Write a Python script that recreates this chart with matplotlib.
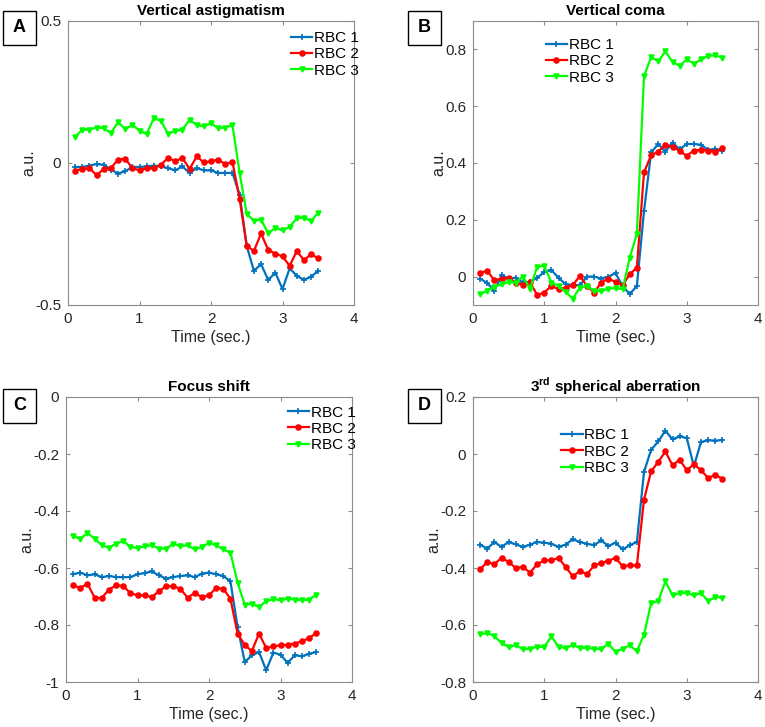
import numpy as np
import matplotlib
matplotlib.use("Agg")
import matplotlib.pyplot as plt
from matplotlib.patches import Rectangle
from matplotlib.ticker import FuncFormatter

plt.rcParams['font.family'] = ['Liberation Sans', 'DejaVu Sans']
plt.rcParams['mathtext.fontset'] = 'custom'
plt.rcParams['mathtext.rm'] = 'Liberation Sans'
plt.rcParams['mathtext.bf'] = 'Liberation Sans:bold'

# time points (s)
t = np.round(np.arange(1, 36) * 0.1, 1)
labels = ['RBC 1', 'RBC 2', 'RBC 3']

# A - vertical astigmatism
astig_1 = [-0.014, -0.014, -0.009, -0.004, -0.006, -0.023, -0.037, -0.029, -0.014, -0.014,
           -0.012, -0.009, -0.012, -0.018, -0.026, -0.012, -0.035, -0.018, -0.026, -0.026,
           -0.035, -0.035, -0.035, -0.111, -0.292, -0.380, -0.356, -0.412, -0.386, -0.444,
           -0.371, -0.397, -0.412, -0.400, -0.380]
astig_2 = [-0.027, -0.021, -0.018, -0.043, -0.021, -0.018, 0.012, 0.015, -0.018, -0.026,
           -0.018, -0.018, -0.006, 0.018, 0.006, 0.018, -0.021, 0.023, 0.002, 0.006,
           0.012, -0.004, 0.004, -0.126, -0.292, -0.310, -0.248, -0.306, -0.319, -0.329,
           -0.362, -0.310, -0.342, -0.321, -0.336]
astig_3 = [0.093, 0.117, 0.117, 0.125, 0.123, 0.105, 0.144, 0.119, 0.134, 0.114,
           0.102, 0.158, 0.148, 0.103, 0.113, 0.117, 0.152, 0.134, 0.129, 0.140,
           0.123, 0.125, 0.134, -0.035, -0.178, -0.204, -0.199, -0.248, -0.228, -0.237,
           -0.225, -0.195, -0.193, -0.204, -0.175]

# B - vertical coma
coma_1 = [-0.007, -0.023, -0.050, 0.005, -0.007, -0.004, -0.021, -0.019, -0.004, 0.016,
          0.023, -0.004, -0.027, -0.030, -0.030, 0.000, 0.000, -0.007, 0.000, 0.012,
          -0.033, -0.062, -0.033, 0.230, 0.437, 0.467, 0.440, 0.472, 0.448, 0.467,
          0.467, 0.464, 0.446, 0.450, 0.444]
coma_2 = [0.014, 0.020, -0.013, -0.007, -0.004, -0.021, -0.029, -0.019, -0.065, -0.056,
          -0.033, -0.044, -0.039, -0.030, 0.002, -0.033, -0.056, -0.021, -0.007, -0.019,
          -0.030, 0.008, 0.032, 0.367, 0.427, 0.440, 0.464, 0.458, 0.443, 0.425,
          0.444, 0.446, 0.444, 0.440, 0.452]
coma_3 = [-0.062, -0.050, -0.035, -0.027, -0.019, -0.021, 0.000, -0.042, 0.035, 0.038,
          -0.021, -0.033, -0.054, -0.078, -0.039, -0.033, -0.050, -0.052, -0.042, -0.041,
          -0.044, 0.067, 0.151, 0.705, 0.773, 0.758, 0.793, 0.756, 0.742, 0.765,
          0.750, 0.765, 0.777, 0.779, 0.771]

# C - focus shift
focus_1 = [-0.622, -0.616, -0.626, -0.622, -0.632, -0.628, -0.632, -0.632, -0.632, -0.622,
           -0.618, -0.612, -0.626, -0.637, -0.632, -0.628, -0.626, -0.632, -0.620, -0.616,
           -0.622, -0.628, -0.647, -0.807, -0.930, -0.906, -0.895, -0.959, -0.897, -0.904,
           -0.933, -0.906, -0.910, -0.901, -0.895]
focus_2 = [-0.661, -0.670, -0.655, -0.704, -0.705, -0.676, -0.661, -0.663, -0.688, -0.696,
           -0.696, -0.702, -0.682, -0.663, -0.664, -0.673, -0.704, -0.688, -0.702, -0.696,
           -0.670, -0.673, -0.708, -0.830, -0.871, -0.891, -0.830, -0.881, -0.875, -0.871,
           -0.869, -0.865, -0.857, -0.846, -0.828]
focus_3 = [-0.489, -0.497, -0.477, -0.497, -0.520, -0.529, -0.515, -0.505, -0.526, -0.530,
           -0.524, -0.520, -0.532, -0.532, -0.515, -0.524, -0.520, -0.535, -0.526, -0.512,
           -0.520, -0.535, -0.546, -0.651, -0.729, -0.725, -0.737, -0.716, -0.710, -0.713,
           -0.708, -0.711, -0.713, -0.711, -0.694]

# D - 3rd spherical aberration
sph_1 = [-0.318, -0.332, -0.309, -0.326, -0.309, -0.317, -0.326, -0.318, -0.309, -0.311,
         -0.315, -0.326, -0.318, -0.299, -0.309, -0.315, -0.320, -0.303, -0.323, -0.311,
         -0.335, -0.320, -0.309, -0.063, 0.015, 0.044, 0.082, 0.051, 0.062, 0.056,
         -0.043, 0.042, 0.048, 0.047, 0.049]
sph_2 = [-0.405, -0.379, -0.387, -0.364, -0.379, -0.400, -0.396, -0.416, -0.387, -0.373,
         -0.373, -0.365, -0.396, -0.429, -0.411, -0.422, -0.391, -0.382, -0.375, -0.364,
         -0.394, -0.391, -0.391, -0.160, -0.061, -0.028, 0.009, -0.040, -0.020, -0.057,
         -0.036, -0.057, -0.084, -0.073, -0.087]
sph_3 = [-0.633, -0.628, -0.639, -0.663, -0.677, -0.671, -0.685, -0.683, -0.677, -0.677,
         -0.640, -0.677, -0.681, -0.670, -0.680, -0.681, -0.683, -0.685, -0.665, -0.695,
         -0.683, -0.671, -0.692, -0.634, -0.523, -0.516, -0.447, -0.496, -0.488, -0.488,
         -0.496, -0.488, -0.516, -0.502, -0.504]

colors = ['#0072BD', '#FF0000', '#00FF00']
markers = ['+', 'o', 'v']
msizes = [4, 3.5, 3.5]

W, H = 765, 727
fig = plt.figure(figsize=(W / 100, H / 100), dpi=100)

def px_axes(x0, y0, x1, y1):
    return fig.add_axes([x0 / W, 1 - y1 / H, (x1 - x0) / W, (y1 - y0) / H])

panels = [
    dict(rect=(68, 21, 354, 305), title='Vertical astigmatism', data=[astig_1, astig_2, astig_3],
         ylim=(-0.5, 0.5), yticks=[-0.5, 0, 0.5], leg=(0.78, 0.965), tag='A', tagxy=(3, 11)),
    dict(rect=(473, 21, 758, 305), title='Vertical coma', data=[coma_1, coma_2, coma_3],
         ylim=(-0.1, 0.9), yticks=[0, 0.2, 0.4, 0.6, 0.8], leg=(0.255, 0.94), tag='B', tagxy=(408, 11)),
    dict(rect=(66, 397, 352, 682), title='Focus shift', data=[focus_1, focus_2, focus_3],
         ylim=(-1, 0), yticks=[-1, -0.8, -0.6, -0.4, -0.2, 0], leg=(0.775, 0.97), tag='C', tagxy=(3, 389)),
    dict(rect=(473, 397, 758, 682), title=r'3$^{\mathbf{rd}}$ spherical aberration',
         data=[sph_1, sph_2, sph_3], ylim=(-0.8, 0.2), yticks=[-0.8, -0.6, -0.4, -0.2, 0, 0.2],
         leg=(0.31, 0.89), tag='D', tagxy=(408, 389)),
]

for p in panels:
    ax = px_axes(*p['rect'])
    for y, c, m, ms, lab in zip(p['data'], colors, markers, msizes, labels):
        ax.plot(t, y, color=c, marker=m, markersize=ms, markeredgewidth=1.2,
                linewidth=1.6, label=lab)
    ax.set_xlim(0, 4)
    ax.set_ylim(*p['ylim'])
    ax.set_xticks([0, 1, 2, 3, 4])
    ax.set_yticks(p['yticks'])
    ax.yaxis.set_major_formatter(FuncFormatter(lambda v, pos: '%g' % round(v, 3)))
    ax.tick_params(direction='in', top=True, right=True, length=3, width=0.8,
                   color='#8c8c8c', labelcolor='#262626', labelsize=11, pad=5)
    for s in ax.spines.values():
        s.set_color('#8c8c8c')
        s.set_linewidth(0.8)
    ax.set_title(p['title'], fontsize=11, fontweight='bold', pad=4)
    ax.set_xlabel('Time (sec.)', fontsize=11.5, color='#262626', labelpad=3)
    ax.set_ylabel('a.u.', fontsize=11.5, color='#262626', labelpad=-1)
    ax.legend(loc='upper left', bbox_to_anchor=p['leg'], frameon=False, fontsize=11,
              handlelength=1.4, handletextpad=0.1, labelspacing=0.15, borderpad=0,
              borderaxespad=0)

    # panel tag box
    tx, ty = p['tagxy']
    fig.add_artist(Rectangle((tx / W, 1 - (ty + 34) / H), 33 / W, 34 / H,
                             transform=fig.transFigure, facecolor='white',
                             edgecolor='black', linewidth=1.0))
    fig.text((tx + 16.5) / W, 1 - (ty + 17) / H, p['tag'], ha='center', va='center',
             fontsize=13, fontweight='bold')

fig.savefig('out.png', dpi=100)
